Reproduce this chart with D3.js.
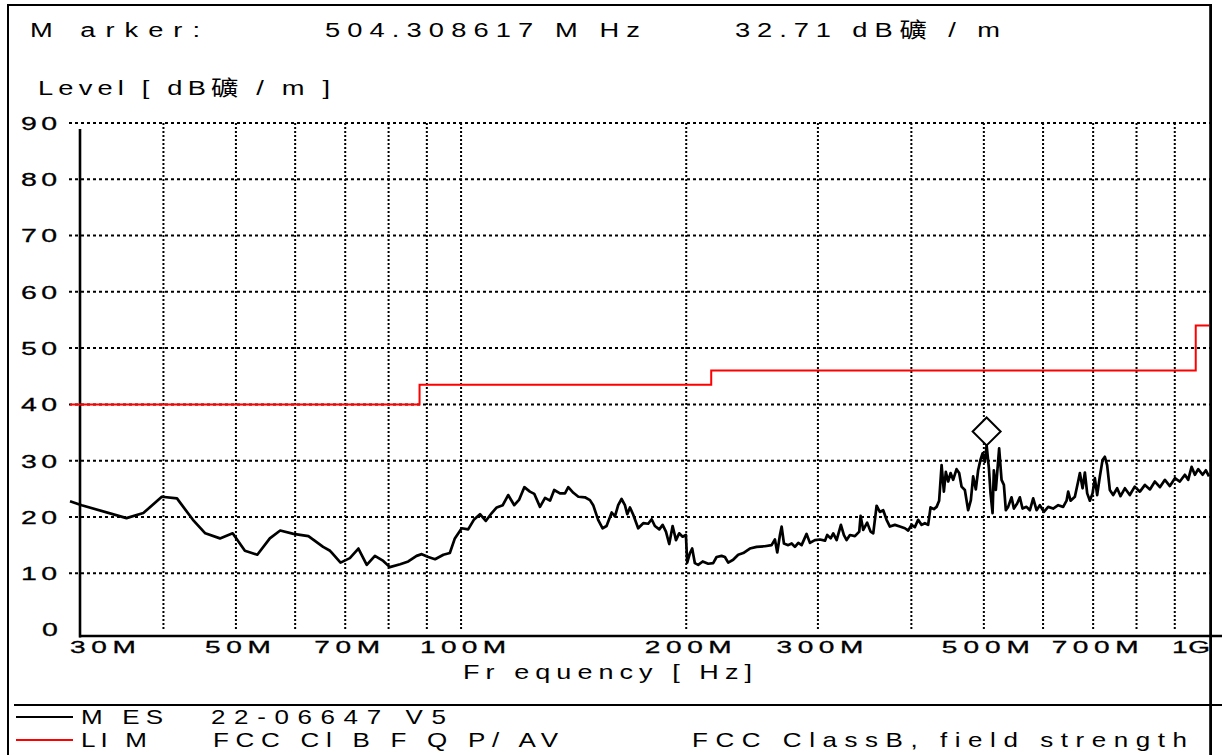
<!DOCTYPE html>
<html>
<head>
<meta charset="utf-8">
<script src="https://cdn.jsdelivr.net/npm/d3@7"></script>
<style>
  html, body { margin: 0; padding: 0; background: #fff; }
  svg { display: block; }
  text { font-family: "Liberation Sans", Arial, "Noto Sans CJK SC", sans-serif; fill: #000; }
</style>
</head>
<body>
<svg id="chart" width="1222" height="755"></svg>
<script>
// measured trace (MHz, dBuV/m)
const mesFreq = [
  30.0, 31.1, 35.7, 37.6, 39.8, 41.7, 43.8, 45.5, 47.6, 49.5, 51.4, 53.4, 55.5, 57.3, 59.7, 62.5, 65.4, 66.8,
  67.1, 69.0, 71.0, 72.9, 74.8, 76.7, 78.7, 80.3, 82.9, 85.0, 87.2, 88.6, 90.4, 92.3, 94.7, 96.6, 98.1,
  100.2, 102.2, 104.0, 106.0, 107.9, 109.9, 111.6, 113.7, 115.6, 117.8, 119.6, 121.5, 123.6, 125.3, 127.5,
  129.5, 131.5, 133.2, 135.6, 137.7, 139.1, 141.3, 143.5, 146.4, 148.7,
  150.2, 152.5, 154.6, 156.5, 159.0, 160.6, 162.2, 163.9, 165.6, 166.8, 168.2, 169.9, 172.5, 175.2, 177.9,
  179.8, 181.6, 184.1, 186.0, 187.9, 189.8, 191.8, 193.8, 195.7, 197.8, 199.8, 200.6, 202.3, 203.7, 205.4,
  207.5, 210.4, 214.0, 217.3, 219.6, 223.0, 225.3, 227.6, 231.1, 234.7, 238.4, 243.3, 248.4, 254.8, 260.1,
  262.8, 264.7, 266.9, 268.3, 270.2, 273.8, 276.7, 279.5, 282.4, 285.3, 289.7, 292.7, 297.2, 301.9, 306.6,
  308.7, 312.0, 314.5, 317.8, 322.0, 325.0, 327.7, 331.1,
  336.2, 340.7, 342.1, 344.9, 349.1, 352.8, 355.7, 359.4, 363.0, 366.8, 370.6, 374.4, 380.2, 386.1, 392.1,
  396.1, 400.2, 404.3, 408.4, 412.8, 417.0, 421.2, 424.3, 428.7, 432.3, 435.7, 439.0, 442.1, 444.8,
  448.0, 451.3, 454.9, 459.7, 463.4, 466.8, 471.6, 476.4, 480.4, 483.8, 487.8, 491.3, 494.9, 498.0, 501.5,
  504.3, 507.8, 510.4, 513.6, 515.6, 518.8, 524.1, 528.0, 531.8, 535.0, 538.8, 544.5, 548.4, 554.0, 558.6,
  563.2, 570.2, 576.1,
  582.0, 588.1, 594.1, 601.5, 609.5, 618.9, 628.6, 638.3, 645.0, 648.2, 653.0, 661.7, 668.4, 672.0, 677.6,
  682.4, 687.3, 693.0, 698.7, 703.7, 708.7, 714.6, 720.5, 725.7, 730.8, 736.9, 744.5, 753.7, 761.6, 771.8,
  783.6, 795.6, 808.4, 821.0, 833.7, 846.6, 859.7, 873.1, 886.5, 900.3, 914.2, 928.4, 937.9, 947.8, 957.5,
  967.3, 980.5, 990.5, 1000.0
];
const mesLevel = [
  22.8, 22.1, 19.8, 20.7, 23.6, 23.3, 19.5, 17.1, 16.2, 17.1, 14.0, 13.3, 16.2, 17.6, 17.0, 16.6, 14.7, 14.0,
  13.7, 11.9, 12.7, 14.4, 11.5, 13.1, 12.2, 11.1, 11.6, 12.1, 13.1, 13.4, 12.9, 12.5, 13.3, 13.6, 16.2,
  18.0, 17.8, 19.5, 20.5, 19.3, 20.7, 21.7, 22.1, 23.9, 22.1, 23.1, 25.3, 24.5, 24.1, 21.8,
  23.4, 22.9, 24.8, 24.2, 24.2, 25.3, 24.3, 23.6, 23.5, 23.0,
  22.1, 19.5, 18.0, 18.4, 20.8, 20.1, 22.1, 23.2, 22.1, 20.5, 21.7, 20.4, 18.0, 18.9, 18.8,
  19.6, 18.4, 17.8, 18.6, 17.4, 15.2, 18.4, 15.9, 17.1, 16.5, 16.8, 11.9, 13.6, 14.4, 11.8,
  11.5, 12.1, 11.7, 11.8, 12.9, 13.1, 12.9, 11.9, 12.4, 13.3, 13.6, 14.4, 14.7, 14.8, 15.0,
  16.0, 13.7, 16.8, 18.3, 15.3, 15.0, 15.3, 14.7, 15.4, 15.0, 17.0, 15.4, 15.9, 16.0, 15.8,
  16.8, 16.2, 17.1, 15.9, 18.6, 16.8, 15.9, 16.8,
  16.6, 17.4, 20.2, 17.7, 19.0, 17.4, 17.1, 22.0, 20.9, 21.2, 19.5, 18.3, 18.6, 18.3, 18.0,
  17.6, 18.6, 18.2, 19.5, 18.6, 18.9, 18.6, 21.7, 21.4, 21.8, 22.9, 29.2, 24.5, 28.0,
  26.3, 27.8, 26.6, 28.5, 27.8, 25.4, 24.8, 21.2, 23.0, 27.2, 24.9, 28.3, 30.2, 31.3, 29.8,
  32.71, 28.7, 24.2, 20.7, 28.3, 24.8, 32.2, 26.6, 25.7, 21.2, 21.8, 23.5, 21.5, 22.4, 23.5,
  21.5, 21.8, 21.2,
  23.3, 21.2, 22.1, 20.9, 21.8, 21.5, 22.1, 21.8, 22.9, 24.5, 22.9, 23.6, 26.3, 27.8, 25.1,
  27.9, 24.2, 22.9, 24.2, 26.9, 23.9, 27.2, 30.1, 30.7, 29.2, 24.8, 23.9, 25.1, 23.7, 25.1,
  23.9, 25.4, 24.5, 25.7, 24.9, 26.3, 25.3, 26.6, 25.5, 26.9, 26.3, 27.5, 26.6, 28.9, 27.5,
  28.5, 27.5, 28.3, 27.2
];

// FCC class B limit (step after each frequency)
const limFreq = [30, 88, 216, 960, 1000];
const limLevel = [40, 43.5, 46, 54, 54];

const markerFreq = 504.308617;
const markerLevel = 32.71;

const yTicks = [0, 10, 20, 30, 40, 50, 60, 70, 80, 90];
const xGrid = [40, 50, 60, 70, 80, 90, 100, 200, 300, 400, 500, 600, 700, 800, 900];
const xTickFreq = [30, 50, 70, 100, 200, 300, 500, 700, 1000];
const xTickText = ["30M", "50M", "70M", "100M", "200M", "300M", "500M", "700M", "1G"];
const xTickWidth = [66, 66, 66, 86, 87, 87, 88, 87, 38];

const svg = d3.select("#chart");

const x = d3.scaleLog().domain([30, 1000]).range([70, 1209]);
const y = d3.scaleLinear().domain([0, 90]).range([629.6, 122.9]);

// stretched text with fixed width, the plotter font is wide
function label(str, x0, base, width, size, sx, bold) {
  return svg.append("text")
    .attr("transform", `translate(${x0},${base}) scale(${sx},1)`)
    .attr("font-size", size)
    .attr("textLength", width / sx)
    .attr("lengthAdjust", "spacing")
    .attr("stroke", bold ? "#000" : "none")
    .attr("stroke-width", bold ? 0.3 : 0)
    .text(str);
}

// outer frame
svg.append("path")
  .attr("d", "M8,755 V5 H1211 V755")
  .attr("fill", "none")
  .attr("stroke", "#000")
  .attr("stroke-width", 2);

// grid
svg.append("g")
  .selectAll("line")
  .data(yTicks.filter((d) => d > 0))
  .join("line")
  .attr("x1", 69)
  .attr("x2", 1210)
  .attr("y1", (d) => y(d))
  .attr("y2", (d) => y(d))
  .attr("stroke", "#000")
  .attr("stroke-width", 2)
  .attr("stroke-dasharray", "3,3");

svg.append("g")
  .selectAll("line")
  .data(xGrid)
  .join("line")
  .attr("x1", (d) => x(d))
  .attr("x2", (d) => x(d))
  .attr("y1", y(90))
  .attr("y2", y(0))
  .attr("stroke", "#000")
  .attr("stroke-width", 2)
  .attr("stroke-dasharray", "2,2");

// axes lines
svg.append("line")
  .attr("x1", 80).attr("x2", 80)
  .attr("y1", 129).attr("y2", 637.5)
  .attr("stroke", "#000").attr("stroke-width", 2.6);

svg.append("line")
  .attr("x1", 79).attr("x2", 1222)
  .attr("y1", 636).attr("y2", 636)
  .attr("stroke", "#000").attr("stroke-width", 2.4);

svg.append("line")
  .attr("x1", 1210.5).attr("x2", 1210.5)
  .attr("y1", 5).attr("y2", 755)
  .attr("stroke", "#000").attr("stroke-width", 2.6);

// limit line
const limLine = d3.line()
  .x((d, i) => x(limFreq[i]))
  .y((d) => y(d))
  .curve(d3.curveStepAfter);

svg.append("path")
  .attr("d", limLine(limLevel))
  .attr("fill", "none")
  .attr("stroke", "#ff0000")
  .attr("stroke-width", 2);

// measurement
const mesLine = d3.line()
  .x((d, i) => x(mesFreq[i]))
  .y((d) => y(d));

svg.append("path")
  .attr("d", mesLine(mesLevel))
  .attr("fill", "none")
  .attr("stroke", "#000")
  .attr("stroke-width", 2.7)
  .attr("stroke-linejoin", "round");

// marker diamond, bottom vertex on the marked value
const mx = x(markerFreq);
const my = y(markerLevel) - 14;
svg.append("path")
  .attr("d", `M${mx},${my - 14} L${mx + 14},${my} L${mx},${my + 14} L${mx - 14},${my} Z`)
  .attr("fill", "#fff")
  .attr("stroke", "#000")
  .attr("stroke-width", 2);

// tick labels
yTicks.forEach((v) => {
  const s = String(v);
  const w = s.length === 1 ? 15 : 36;
  label(s, 57 - w, y(v) + 6.8, w, 19, 1.5, true);
});

xTickText.forEach((s, i) => {
  const w = xTickWidth[i];
  let x0 = x(xTickFreq[i]) + 2 - w / 2;
  if (i === 0) x0 = 70;
  if (i === xTickText.length - 1) x0 = 1210 - w;
  label(s, x0, 653, w, 17, 1.65, true);
});

label("Fr equency  [ Hz]", 463, 679, 289, 20, 1.35, false);

// header
label("M arker:", 30, 37, 170, 21, 1.3, false);
label("504.308617 M Hz", 325, 37, 315, 21, 1.3, false);
label("32.71 dB礦 / m", 735, 37, 265, 21, 1.3, false);
label("Level [ dB礦 / m ]", 38, 95, 292, 21, 1.3, false);

// legend
svg.append("line")
  .attr("x1", 14).attr("x2", 1222)
  .attr("y1", 705).attr("y2", 705)
  .attr("stroke", "#000").attr("stroke-width", 2);

svg.append("line")
  .attr("x1", 16).attr("x2", 73)
  .attr("y1", 717).attr("y2", 717)
  .attr("stroke", "#000").attr("stroke-width", 2);

svg.append("line")
  .attr("x1", 16).attr("x2", 73)
  .attr("y1", 740).attr("y2", 740)
  .attr("stroke", "#ff0000").attr("stroke-width", 2);

label("M ES", 81, 724, 82, 20, 1.3, false);
label("22-06647  V5", 211, 724, 235, 20, 1.3, false);
label("LI M", 81, 747, 66, 20, 1.3, false);
label("FCC  Cl B  F  Q  P/ AV", 213, 747, 345, 20, 1.3, false);
label("FCC ClassB,  field strength", 692, 747, 495, 20, 1.3, false);
</script>
</body>
</html>
